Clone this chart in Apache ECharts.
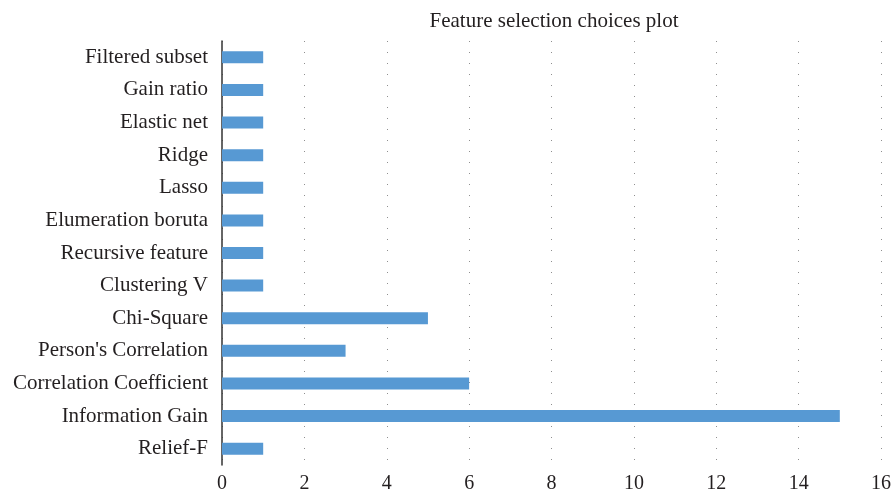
<!DOCTYPE html>
<html>
<head>
<meta charset="utf-8">
<style>
  html, body { margin: 0; padding: 0; background: #fff; }
  #chart { width: 892px; height: 493px; }
</style>
<script src="https://cdn.jsdelivr.net/npm/echarts@6/dist/echarts.min.js"></script>
</head>
<body>
<div id="chart"></div>
<script>
// categories listed bottom to top (ECharts category y axis starts at the bottom)
const categories = [
    'Relief-F',
    'Information Gain',
    'Correlation Coefficient',
    "Person's Correlation",
    'Chi-Square',
    'Clustering V',
    'Recursive feature',
    'Elumeration boruta',
    'Lasso',
    'Ridge',
    'Elastic net',
    'Gain ratio',
    'Filtered subset'
];
const counts = [1, 15, 6, 3, 5, 1, 1, 1, 1, 1, 1, 1, 1];
const xTicks = [0, 2, 4, 6, 8, 10, 12, 14, 16];

const font = '"Liberation Serif", "DejaVu Serif", serif';
const chart = echarts.init(document.getElementById('chart'));

chart.setOption({
    animation: false,
    title: {
        text: 'Feature selection choices plot',
        left: 549,
        textAlign: 'center',
        top: 6,
        textStyle: { fontFamily: font, fontSize: 21, fontWeight: 'normal', color: '#231f20' }
    },
    grid: { left: 222, right: 11, top: 41, bottom: 28, outerBoundsMode: 'none' },
    xAxis: {
        type: 'value',
        min: xTicks[0],
        max: xTicks[xTicks.length - 1],
        interval: 2,
        axisLine: { show: false },
        axisTick: { show: false },
        axisLabel: { fontFamily: font, fontSize: 20, color: '#231f20', margin: 9 },
        splitLine: {
            show: true,
            lineStyle: { color: '#8f8f8f', type: [1, 10], width: 1 }
        }
    },
    yAxis: {
        type: 'category',
        data: categories,
        axisLine: { show: true, lineStyle: { color: '#333', width: 1.5 } },
        axisTick: { show: false },
        axisLabel: { fontFamily: font, fontSize: 21, color: '#231f20', margin: 14 }
    },
    series: [
        {
            type: 'bar',
            data: counts,
            barWidth: 12,
            itemStyle: { color: '#5799d3' }
        }
    ]
});
</script>
</body>
</html>
